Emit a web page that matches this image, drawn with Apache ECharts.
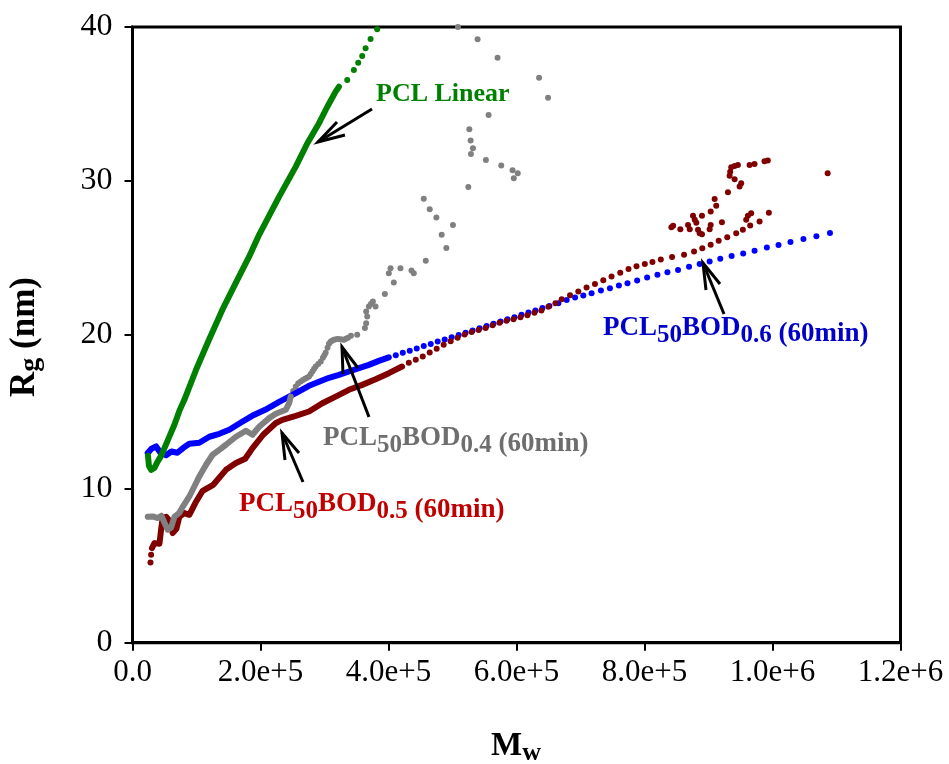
<!DOCTYPE html>
<html>
<head>
<meta charset="utf-8">
<script src="https://cdn.jsdelivr.net/npm/echarts@6/dist/echarts.min.js"></script>
<style>html,body{margin:0;padding:0;background:#fff}#chart{width:949px;height:764px}</style>
</head>
<body>
<div id="chart"></div>
<script>
var xTickLabels = ['0.0', '2.0e+5', '4.0e+5', '6.0e+5', '8.0e+5', '1.0e+6', '1.2e+6'];
var yTickLabels = ['0', '10', '20', '30', '40'];

// PCL Linear
var greenLine = [[24200,12.14],[25700,11.49],[29100,11.23],[34300,11.36],[39000,11.75],[44700,12.14],[51400,12.79],[57700,13.40],[65500,14.16],[73200,15.06],[81000,15.78],[99300,17.73],[119500,19.68],[140300,21.62],[161200,23.36],[182200,25.08],[197800,26.5],[229100,28.98],[255100,30.93],[273200,32.45],[291400,33.75],[304400,34.82],[317400,35.80],[322600,36.12]];
var greenDots = [[335500,36.56],[345900,37.21],[352700,37.68],[358900,38.12],[364200,38.62],[372000,39.22],[382300,39.85]];

// PCL50BOD0.6
var blueLine = [[23800,12.32],[29600,12.60],[36900,12.75],[43600,12.34],[52500,12.18],[60800,12.42],[70100,12.34],[79500,12.66],[88800,12.92],[104400,12.99],[120000,13.38],[135600,13.57],[151200,13.83],[171400,14.35],[187000,14.74],[207300,15.13],[229100,15.65],[255100,16.21],[275800,16.69],[291400,16.95],[307000,17.21],[322600,17.40],[338200,17.62],[353800,17.84],[369300,18.05],[384900,18.31],[400500,18.54]];
var blueDots = [[411400,18.68],[422300,18.83],[433200,18.97],[444100,19.12],[455100,19.27],[466000,19.41],[476900,19.56],[487800,19.70],[498700,19.85],[509600,19.99],[520500,20.14],[531400,20.28],[542300,20.43],[553200,20.58],[564100,20.72],[575000,20.86],[585900,21.01],[596800,21.15],[607800,21.30],[618700,21.45],[629600,21.59],[640500,21.74],[651400,21.88],[665400,22.06],[678400,22.27],[691500,22.42],[704400,22.55],[717300,22.71],[731900,22.88],[746000,23.03],[760000,23.20],[773400,23.36],[788500,23.53],[804100,23.72],[820200,23.90],[835800,24.07],[852400,24.22],[869600,24.42],[886200,24.61],[901800,24.76],[918400,24.94],[936100,25.13],[954200,25.28],[972000,25.47],[991200,25.67],[1009400,25.84],[1028100,26.04],[1048300,26.23],[1068600,26.41],[1089800,26.62]];

// PCL50BOD0.4
var grayLine = [[23800,8.18],[31600,8.20],[39400,8.10],[45200,8.25],[49900,7.79],[55000,7.34],[60300,7.47],[65500,8.18],[73200,8.44],[78400,8.83],[88800,9.50],[96600,10.15],[104400,10.80],[114900,11.56],[125100,12.21],[135600,12.53],[146000,12.86],[161600,13.38],[177200,13.77],[187500,13.51],[197900,14.03],[213500,14.59],[223900,14.87],[239500,15.13],[244700,15.56],[247300,15.99]];
var grayDots = [[251000,16.35],[255100,16.64],[259000,16.85],[262900,16.97],[266300,17.06],[269600,17.14],[272700,17.22],[275800,17.29],[278600,17.46],[281300,17.63],[283800,17.79],[286300,17.94],[290200,18.10],[294100,18.27],[297600,18.51],[299700,18.67],[301800,18.83],[304700,19.16],[307000,19.42],[309400,19.55],[311700,19.61],[314800,19.68],[317900,19.71],[321000,19.73],[324100,19.71],[327200,19.70],[330400,19.68],[333500,19.75],[336600,19.81],[341300,19.94],[351100,20.00],[363100,20.44],[365100,20.76],[366700,21.19],[365100,21.51],[369300,21.84],[372500,22.01],[375600,22.16],[379800,21.84],[394300,22.66],[400500,24.01],[403200,24.33],[408300,23.40],[418700,24.33],[435900,24.18],[439500,24.01],[458200,24.81],[455100,28.85],[464400,28.16],[474800,27.62],[483100,26.51],[490400,25.65],[500700,27.14],[508500,40.0],[524700,29.61],[526300,33.36],[528300,32.62],[531900,32.12],[528800,31.75],[539200,39.20],[552200,31.36],[556400,34.29],[570400,38.01],[576200,31.00],[593800,30.69],[602000,30.50],[595800,30.18],[635300,36.71],[649300,35.41]];

// PCL50BOD0.5
var redLine = [[30400,6.15],[34300,6.47],[42100,6.43],[44700,7.34],[47200,8.12],[52500,8.18],[57700,7.92],[62800,7.12],[68600,7.40],[73200,8.18],[81000,8.42],[88800,8.31],[99300,9.16],[109600,9.87],[126200,10.26],[146000,11.23],[161600,11.67],[176100,11.95],[187500,12.64],[204200,13.51],[224000,14.27],[234200,14.48],[255100,14.74],[275800,15.02],[296600,15.56],[317400,15.99],[338200,16.43],[358900,16.75],[379800,17.11],[400500,17.51],[421200,17.94]];
var redDots = [[28100,5.21],[29100,5.71],[431700,18.18],[442600,18.38],[453500,18.60],[464400,18.86],[475300,19.09],[486200,19.35],[497100,19.58],[508000,19.81],[518900,20.03],[529900,20.19],[540800,20.32],[551700,20.44],[562600,20.62],[573500,20.78],[584400,20.91],[595300,21.01],[606200,21.14],[617100,21.27],[628000,21.43],[638900,21.59],[649900,21.82],[660800,22.05],[670600,22.32],[683700,22.58],[696600,22.81],[709500,23.07],[722600,23.31],[735600,23.55],[748500,23.79],[762100,24.03],[775000,24.27],[787500,24.46],[800500,24.61],[812400,24.74],[825500,24.89],[843100,25.05],[861800,25.21],[877400,25.41],[890300,25.63],[903400,25.86],[915900,26.12],[929300,26.34],[943300,26.60],[953700,26.82],[965100,27.10],[979800,27.36],[994300,27.94],
  [842000,26.99],[844700,27.08],[856000,26.86],[868000,27.14],[870700,26.86],[875800,27.73],[878500,27.47],[881000,27.29],[883600,26.82],[886200,26.60],[889800,26.54],[889800,27.73],[901800,26.86],[903400,27.14],[903400,28.01],[909600,28.83],[912100,28.38],[921000,27.32],[930400,29.27],[933000,30.34],[933900,30.60],[935500,30.89],[940800,30.97],[945900,31.04],[940800,30.11],[951100,29.85],[948600,29.63],[958900,27.47],[961600,27.73],[966700,27.90],[964200,31.04],[971900,31.10],[987500,31.28],[992700,31.32],[1086200,30.50]];

var serif = 'Liberation Serif';
var GREEN = '#008000', BLUE = '#0000ff', GRAY = '#808080', RED = '#800000';

function lineSeries(data, color) {
    return { type: 'line', data: data, symbol: 'none', silent: true,
        lineStyle: { color: color, width: 6, cap: 'round', join: 'round' } };
}
function dotSeries(data, color) {
    return { type: 'scatter', data: data, symbolSize: 6, silent: true, itemStyle: { color: color, opacity: 1 } };
}

function rich(color, big, small, paren) {
    return {
        m: { fontFamily: serif, fontWeight: 'bold', fontSize: big, fill: color, color: color, lineHeight: 40, verticalAlign: 'middle' },
        s: { fontFamily: serif, fontWeight: 'bold', fontSize: small, fill: color, color: color, lineHeight: small, verticalAlign: 'bottom' },
        p: { fontFamily: serif, fontWeight: 'bold', fontSize: paren, fill: color, color: color, lineHeight: 38, verticalAlign: 'bottom' }
    };
}
function text(x, y, str, color, big, small, paren, rot, align) {
    return { type: 'text', x: x, y: y, rotation: rot || 0, silent: true, z: 10,
        style: { text: str, rich: rich(color, big, small, paren), align: align || 'left', verticalAlign: 'middle',
            textAlign: align || 'left', textVerticalAlign: 'middle' } };
}
function arrow(tail, tip, w1, w2) {
    var st = { stroke: '#000', lineWidth: 3, fill: null };
    return [
        { type: 'polyline', silent: true, z: 10, shape: { points: [tail, tip] }, style: st },
        { type: 'polyline', silent: true, z: 10, shape: { points: [w1, tip, w2] }, style: st }
    ];
}

var chart = echarts.init(document.getElementById('chart'));
chart.setOption({
    animation: false,
    backgroundColor: '#fff',
    grid: { left: 132.5, right: 48.5, top: 27, bottom: 121.3, show: true, borderColor: '#000', borderWidth: 3 },
    xAxis: {
        type: 'value', min: 0, max: 1200000, interval: 200000,
        axisLine: { lineStyle: { color: '#000', width: 3 } },
        axisTick: { length: 8, lineStyle: { color: '#000', width: 2 } },
        splitLine: { show: false },
        axisLabel: { fontFamily: serif, fontSize: 31, color: '#000', margin: 15, showMinLabel: true, showMaxLabel: true,
            formatter: function (v) { return xTickLabels[Math.round(v / 200000)]; } }
    },
    yAxis: {
        type: 'value', min: 0, max: 40, interval: 10,
        axisLine: { lineStyle: { color: '#000', width: 3 } },
        axisTick: { length: 8, lineStyle: { color: '#000', width: 2 } },
        splitLine: { show: false },
        axisLabel: { fontFamily: serif, fontSize: 32, color: '#000', margin: 20,
            formatter: function (v) { return yTickLabels[Math.round(v / 10)]; } }
    },
    series: [
        lineSeries(blueLine, BLUE), dotSeries(blueDots, BLUE),
        lineSeries(redLine, RED), dotSeries(redDots, RED),
        lineSeries(grayLine, GRAY), dotSeries(grayDots, GRAY),
        lineSeries(greenLine, GREEN), dotSeries(greenDots, GREEN)
    ],
    graphic: [
        text(376, 94, '{m|PCL Linear}', GREEN, 26, 22, 22),
        text(323, 438, '{m|PCL}{s|50}{m|BOD}{s|0.4}{p| (60min)}', '#6e6e6e', 27, 25, 27),
        text(239, 504, '{m|PCL}{s|50}{m|BOD}{s|0.5}{p| (60min)}', '#c00000', 27, 25, 27),
        text(603, 328, '{m|PCL}{s|50}{m|BOD}{s|0.6}{p| (60min)}', '#0000c8', 27, 25, 27),
        text(516, 746, '{m|M}{s|w}', '#000', 33, 26, 26, 0, 'center'),
        text(25, 337, '{m|R}{s|g}{m| (nm)}', '#000', 35, 28, 28, Math.PI / 2, 'center')
    ].concat(
        arrow([372, 109], [318, 142], [337, 122], [345, 135]),
        arrow([724, 314], [703, 263], [706, 290], [720, 284]),
        arrow([369, 417], [342, 347], [343, 374], [358, 368]),
        arrow([303, 482], [282, 433], [285, 460], [299, 453])
    )
});
</script>
</body>
</html>
